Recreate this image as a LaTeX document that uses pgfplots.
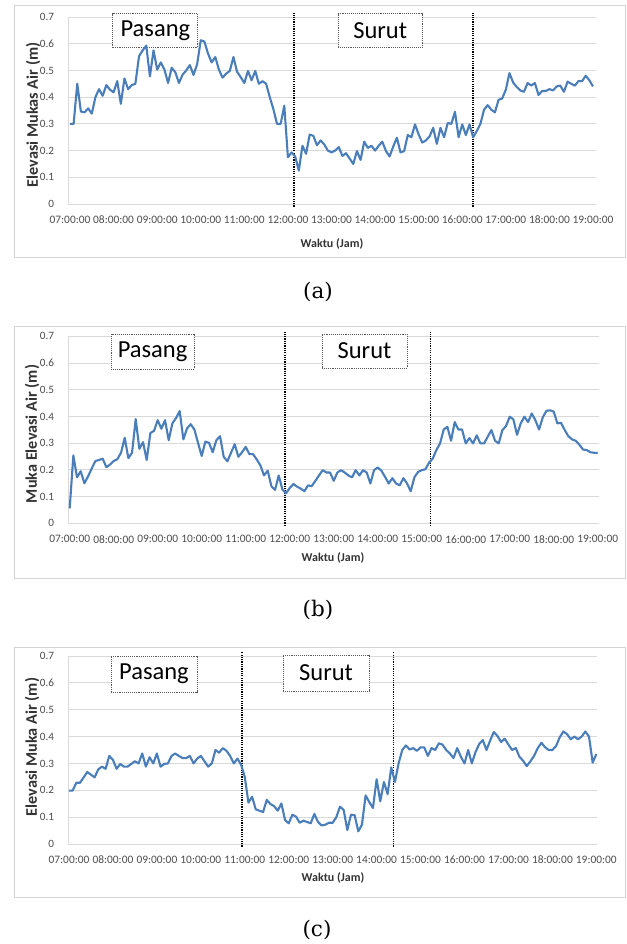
\documentclass[border=0pt]{standalone}
\usepackage{fontspec}
\setmainfont{Carlito}
\newfontfamily\capfont{DejaVu Serif}
\usepackage{pgfplots}
\pgfplotsset{compat=1.18}
\usepackage{pgfplotstable}
\definecolor{wline}{HTML}{4A7EBB}
\definecolor{tickc}{HTML}{4D4D4D}
\definecolor{gridc}{HTML}{D9D9D9}
\definecolor{titlec}{HTML}{333333}
\definecolor{framec}{HTML}{D4D4D4}
\definecolor{boxc}{HTML}{595959}

\pgfplotstableread[row sep=\\]{
i y\\
0 0.300\\1 0.300\\2 0.450\\3 0.346\\4 0.343\\5 0.358\\6 0.338\\7 0.400\\8 0.430\\9 0.405\\
10 0.445\\11 0.428\\12 0.418\\13 0.460\\14 0.375\\15 0.470\\16 0.430\\17 0.445\\18 0.450\\19 0.553\\
20 0.575\\21 0.593\\22 0.478\\23 0.575\\24 0.503\\25 0.530\\26 0.503\\27 0.453\\28 0.510\\29 0.493\\
30 0.453\\31 0.484\\32 0.500\\33 0.520\\34 0.483\\35 0.523\\36 0.613\\37 0.608\\38 0.563\\39 0.530\\
40 0.550\\41 0.503\\42 0.473\\43 0.488\\44 0.498\\45 0.550\\46 0.495\\47 0.475\\48 0.453\\49 0.498\\
50 0.463\\51 0.498\\52 0.450\\53 0.460\\54 0.450\\55 0.400\\56 0.355\\57 0.300\\58 0.300\\59 0.368\\
60 0.175\\61 0.193\\62 0.178\\63 0.125\\64 0.218\\65 0.188\\66 0.260\\67 0.255\\68 0.220\\69 0.238\\
70 0.223\\71 0.200\\72 0.193\\73 0.200\\74 0.213\\75 0.180\\76 0.190\\77 0.170\\78 0.150\\79 0.198\\
80 0.165\\81 0.233\\82 0.210\\83 0.218\\84 0.200\\85 0.218\\86 0.233\\87 0.198\\88 0.178\\89 0.215\\
90 0.248\\91 0.193\\92 0.198\\93 0.258\\94 0.250\\95 0.298\\96 0.260\\97 0.230\\98 0.238\\99 0.253\\
100 0.285\\101 0.225\\102 0.285\\103 0.250\\104 0.303\\105 0.300\\106 0.345\\107 0.250\\108 0.298\\109 0.258\\
110 0.298\\111 0.250\\112 0.273\\113 0.300\\114 0.353\\115 0.370\\116 0.353\\117 0.343\\118 0.390\\119 0.395\\
120 0.428\\121 0.490\\122 0.455\\123 0.438\\124 0.425\\125 0.420\\126 0.453\\127 0.443\\128 0.453\\129 0.408\\
130 0.423\\131 0.423\\132 0.430\\133 0.425\\134 0.440\\135 0.443\\136 0.420\\137 0.458\\138 0.450\\139 0.443\\
140 0.460\\141 0.460\\142 0.480\\143 0.463\\144 0.440\\
}\dataA

\pgfplotstableread[row sep=\\]{
i y\\
0 0.056\\1 0.254\\2 0.172\\3 0.195\\4 0.150\\5 0.175\\6 0.205\\7 0.233\\8 0.237\\9 0.242\\
10 0.210\\11 0.220\\12 0.233\\13 0.240\\14 0.264\\15 0.320\\16 0.244\\17 0.264\\18 0.390\\19 0.279\\
20 0.304\\21 0.237\\22 0.338\\23 0.346\\24 0.386\\25 0.354\\26 0.386\\27 0.311\\28 0.374\\29 0.394\\
30 0.420\\31 0.314\\32 0.355\\33 0.371\\34 0.351\\35 0.301\\36 0.252\\37 0.306\\38 0.301\\39 0.266\\
40 0.311\\41 0.326\\42 0.249\\43 0.232\\44 0.264\\45 0.296\\46 0.249\\47 0.266\\48 0.286\\49 0.259\\
50 0.259\\51 0.239\\52 0.217\\53 0.179\\54 0.197\\55 0.139\\56 0.125\\57 0.179\\58 0.127\\59 0.112\\
60 0.132\\61 0.147\\62 0.137\\63 0.130\\64 0.120\\65 0.142\\66 0.139\\67 0.159\\68 0.179\\69 0.199\\
70 0.190\\71 0.190\\72 0.159\\73 0.190\\74 0.199\\75 0.190\\76 0.179\\77 0.172\\78 0.199\\79 0.179\\
80 0.199\\81 0.190\\82 0.149\\83 0.199\\84 0.209\\85 0.197\\86 0.174\\87 0.149\\88 0.169\\89 0.149\\
90 0.142\\91 0.169\\92 0.149\\93 0.120\\94 0.172\\95 0.192\\96 0.199\\97 0.202\\98 0.227\\99 0.242\\
100 0.274\\101 0.299\\102 0.351\\103 0.361\\104 0.309\\105 0.379\\106 0.351\\107 0.351\\108 0.299\\109 0.319\\
110 0.299\\111 0.329\\112 0.299\\113 0.299\\114 0.324\\115 0.349\\116 0.309\\117 0.299\\118 0.349\\119 0.364\\
120 0.399\\121 0.389\\122 0.331\\123 0.374\\124 0.399\\125 0.379\\126 0.411\\127 0.386\\128 0.351\\129 0.396\\
130 0.421\\131 0.423\\132 0.418\\133 0.374\\134 0.376\\135 0.349\\136 0.326\\137 0.314\\138 0.309\\139 0.294\\
140 0.276\\141 0.274\\142 0.266\\143 0.264\\144 0.263\\
}\dataB

\pgfplotstableread[row sep=\\]{
i y\\
0 0.199\\1 0.199\\2 0.228\\3 0.228\\4 0.248\\5 0.268\\6 0.258\\7 0.248\\8 0.278\\9 0.288\\
10 0.280\\11 0.328\\12 0.313\\13 0.280\\14 0.298\\15 0.288\\16 0.288\\17 0.298\\18 0.308\\19 0.300\\
20 0.337\\21 0.288\\22 0.323\\23 0.300\\24 0.337\\25 0.288\\26 0.298\\27 0.300\\28 0.328\\29 0.337\\
30 0.328\\31 0.320\\32 0.320\\33 0.328\\34 0.300\\35 0.318\\36 0.328\\37 0.308\\38 0.288\\39 0.300\\
40 0.350\\41 0.340\\42 0.357\\43 0.347\\44 0.328\\45 0.300\\46 0.318\\47 0.295\\48 0.250\\49 0.154\\
50 0.176\\51 0.129\\52 0.124\\53 0.119\\54 0.164\\55 0.149\\56 0.141\\57 0.124\\58 0.151\\59 0.089\\
60 0.077\\61 0.109\\62 0.102\\63 0.079\\64 0.087\\65 0.082\\66 0.077\\67 0.112\\68 0.082\\69 0.069\\
70 0.072\\71 0.079\\72 0.079\\73 0.100\\74 0.139\\75 0.127\\76 0.052\\77 0.109\\78 0.107\\79 0.047\\
80 0.072\\81 0.181\\82 0.156\\83 0.134\\84 0.241\\85 0.159\\86 0.231\\87 0.186\\88 0.285\\89 0.231\\
90 0.300\\91 0.350\\92 0.367\\93 0.352\\94 0.357\\95 0.347\\96 0.360\\97 0.360\\98 0.328\\99 0.357\\
100 0.350\\101 0.375\\102 0.370\\103 0.350\\104 0.337\\105 0.320\\106 0.357\\107 0.325\\108 0.300\\109 0.350\\
110 0.300\\111 0.342\\112 0.372\\113 0.387\\114 0.350\\115 0.385\\116 0.417\\117 0.402\\118 0.380\\119 0.392\\
120 0.370\\121 0.350\\122 0.357\\123 0.325\\124 0.310\\125 0.290\\126 0.308\\127 0.328\\128 0.357\\129 0.377\\
130 0.360\\131 0.350\\132 0.350\\133 0.365\\134 0.397\\135 0.419\\136 0.409\\137 0.390\\138 0.400\\139 0.390\\
140 0.400\\141 0.419\\142 0.400\\143 0.303\\144 0.335\\
}\dataC

\tikzset{
  wl/.style={wline, line width=2.1pt, line join=round},
  sep/.style={black, line width=1.5pt, dash pattern=on 1.2pt off 1.1pt},
  tbox/.style={draw=boxc, line width=0.8pt, dash pattern=on 1pt off 0.9pt, fill=white,
    font=\fontsize{24.5}{26}\selectfont, inner sep=0pt, text=black},
}
\pgfplotsset{
  panel/.style={
    scale only axis, anchor=south west, clip=false,
    ymin=0, ymax=0.7,
    ytick={0,0.1,0.2,0.3,0.4,0.5,0.6,0.7},
    yticklabels={0,0.1,0.2,0.3,0.4,0.5,0.6,0.7},
    xtick={0,12,24,36,48,60,72,84,96,108,120,132,144},
    xticklabels={07:00:00,08:00:00,09:00:00,10:00:00,11:00:00,12:00:00,13:00:00,14:00:00,15:00:00,16:00:00,17:00:00,18:00:00,19:00:00},
    ymajorgrids, grid style={gridc, line width=0.9pt},
    axis x line*=bottom, axis y line*=left,
    axis line style={gridc, line width=0.9pt, -},
    major tick length=0pt,
    xticklabel style={font=\fontsize{11.4}{12}\selectfont, text=tickc, anchor=center, yshift=-16pt},
    yticklabel style={font=\fontsize{11.2}{12}\selectfont, text=tickc, anchor=east, inner sep=0pt, xshift=-14pt},
  },
}

\begin{document}
\begin{tikzpicture}[x=1pt,y=1pt]
\fill[white] (0,0) rectangle (626,944);
% panel frames
\draw[framec, line width=0.8pt] (14,687) rectangle (625,939);
\draw[framec, line width=0.8pt] (14,366) rectangle (625,618);
\draw[framec, line width=0.8pt] (14,47) rectangle (625,297);

% ---------- (a)
\begin{axis}[panel, at={(68.3pt,740pt)}, width=527.7pt, height=187pt, xmin=-0.47, xmax=144.83]
\node[tbox, minimum width=85pt, minimum height=34pt] at (axis cs:23.5,0.648) {Pasang};
\node[tbox, minimum width=84pt, minimum height=34pt] at (axis cs:85.4,0.648) {Surut};
\addplot[sep] coordinates {(61.7,-0.01) (61.7,0.715)};
\addplot[sep] coordinates {(111,-0.01) (111,0.715)};
\addplot[wl] table[x=i, y=y] {\dataA};
\end{axis}
\node[font=\bfseries\fontsize{16.2}{18}\selectfont, text=titlec, rotate=90] at (33,829) {Elevasi Mukas Air (m)};
\node[font=\bfseries\fontsize{12}{14}\selectfont, text=titlec] at (332,700) {Waktu (Jam)};
\node[font=\capfont\fontsize{21.5}{23}\selectfont] at (318,652) {(a)};

% ---------- (b)
\begin{axis}[panel, at={(68.3pt,420.7pt)}, width=530.7pt, height=187pt, xmin=-0.38, xmax=144.35]
\node[tbox, minimum width=83pt, minimum height=35pt] at (axis cs:22.6,0.643) {Pasang};
\node[tbox, minimum width=85pt, minimum height=34pt] at (axis cs:80.4,0.645) {Surut};
\addplot[sep] coordinates {(58.7,-0.01) (58.7,0.715)};
\addplot[sep] coordinates {(98.4,-0.01) (98.4,0.715)};
\addplot[wl] table[x=i, y=y] {\dataB};
\end{axis}
\node[font=\bfseries\fontsize{16.2}{18}\selectfont, text=titlec, rotate=90] at (32,510) {Muka Elevasi Air (m)};
\node[font=\bfseries\fontsize{12}{14}\selectfont, text=titlec] at (333,386) {Waktu (Jam)};
\node[font=\capfont\fontsize{21.5}{23}\selectfont] at (318,334) {(b)};

% ---------- (c)
\begin{axis}[panel, at={(68.3pt,100pt)}, width=528.4pt, height=188pt, xmin=-0.19, xmax=144.1]
\node[tbox, minimum width=86pt, minimum height=36pt] at (axis cs:23.2,0.633) {Pasang};
\node[tbox, minimum width=86pt, minimum height=36pt] at (axis cs:70.2,0.637) {Surut};
\addplot[sep] coordinates {(47.2,-0.01) (47.2,0.715)};
\addplot[sep] coordinates {(88.6,-0.01) (88.6,0.715)};
\addplot[wl] table[x=i, y=y] {\dataC};
\end{axis}
\node[font=\bfseries\fontsize{16.2}{18}\selectfont, text=titlec, rotate=90] at (32,197) {Elevasi Muka Air (m)};
\node[font=\bfseries\fontsize{12}{14}\selectfont, text=titlec] at (333,66) {Waktu (Jam)};
\node[font=\capfont\fontsize{21.5}{23}\selectfont] at (317,14) {(c)};
\end{tikzpicture}
\end{document}
